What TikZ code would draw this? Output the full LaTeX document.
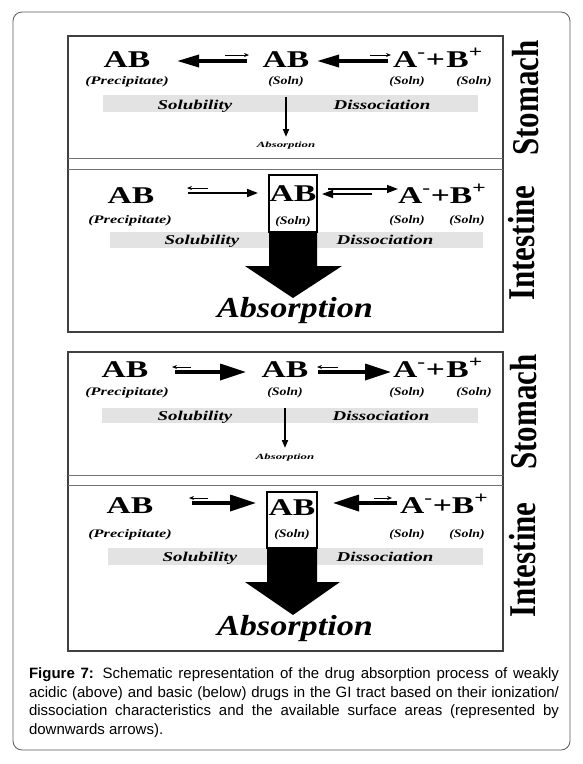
\documentclass[tikz,border=0pt]{standalone}
\usepackage{fontspec}
\setmainfont{Liberation Serif}
\newfontfamily\capfont{Liberation Sans}
\usetikzlibrary{arrows.meta}
\newcommand\sx[2]{\scalebox{#1}[1]{#2}}
\newcommand\sy[2]{\scalebox{1}[#1]{#2}}
\begin{document}
\begin{tikzpicture}[x=1pt,y=-1pt,
  every node/.style={inner sep=0pt, outer sep=0pt},
  big/.style={anchor=base, font=\bfseries\fontsize{24}{24}\selectfont},
  ions/.style={anchor=base west, font=\bfseries\fontsize{24}{24}\selectfont},
  state/.style={anchor=base, font=\bfseries\itshape\fontsize{11.5}{11.5}\selectfont},
  barlab/.style={anchor=base, font=\bfseries\itshape\fontsize{13.5}{13.5}\selectfont},
  absS/.style={anchor=base, font=\bfseries\itshape\fontsize{8}{8}\selectfont},
  absL/.style={anchor=base, font=\bfseries\itshape\fontsize{29}{29}\selectfont},
  organ/.style={rotate=90, anchor=base, font=\bfseries\fontsize{31}{31}\selectfont},
  frame/.style={draw=black!65, line width=0.8pt, rounded corners=9pt},
  panel/.style={draw=black!75, line width=1.5pt},
  sep/.style={draw=black!55, line width=0.9pt},
  bar/.style={fill=black!11},
  boxline/.style={draw=black, fill=white, line width=1.6pt},
  bigA/.style={line width=3.3pt, -{Triangle[length=22pt,width=12pt]}},
  bigB/.style={line width=3.4pt, -{Triangle[length=26pt,width=16pt]}},
  midA/.style={line width=1.8pt, -{Triangle[length=11pt,width=8pt]}},
  thinA/.style={line width=1pt, -{Stealth[length=5pt,width=4pt]}},
  downA/.style={line width=1.8pt, -{Triangle[length=8pt,width=6pt]}},
  fat/.style={fill=black}
]
\useasboundingbox (0,0) rectangle (582,764);
\draw[frame] (13,12) rectangle (570,750);

% panels
\draw[panel] (68,36) rectangle (503,332);
\draw[sep] (68,158) -- (503,158);
\draw[sep] (68,169) -- (503,169);
\draw[panel] (68,352) rectangle (503,651);
\draw[sep] (68,475) -- (503,475);
\draw[sep] (68,485) -- (503,485);

% grey bars
\fill[bar] (103,95) rectangle (478,112);
\fill[bar] (110,232) rectangle (483,248);
\fill[bar] (102,408) rectangle (478,423);
\fill[bar] (108,548) rectangle (483,565);

% ---------- acidic drug: stomach ----------
\node[big] (s1p) at (127,67) {\sx{1.4}{AB}};
\node[state] (s1pl) at (127,84) {\sx{1.42}{(Precipitate)}};
\node[big] (s1s) at (286,67) {\sx{1.4}{AB}};
\node[state] (s1sl) at (286,84) {\sx{1.2}{(Soln)}};
\node[ions] (s1i) at (393,67) {\sx{1.4}{A\textsuperscript{-}+\kern1pt B\textsuperscript{+}}};
\node[state] (s1a) at (407,84) {\sx{1.2}{(Soln)}};
\node[state] (s1b) at (474,84) {\sx{1.2}{(Soln)}};
\node[barlab] (s1sol) at (195,109) {\sx{1.4}{Solubility}};
\node[barlab] (s1dis) at (382,109) {\sx{1.4}{Dissociation}};
\node[absS] (s1abs) at (286,147) {\sx{1.6}{Absorption}};
\node[organ] (s1o) at (538,98) {\sy{1.22}{Stomach}};
\coordinate (a1t) at (177,61); \coordinate (a1e) at (247,61);
\draw[bigA] (a1e) -- (a1t);
\coordinate (a1u) at (225,55); \coordinate (a1v) at (249,55);
\draw[thinA] (a1u) -- (a1v);
\coordinate (b1t) at (317,61); \coordinate (b1e) at (388,61);
\draw[bigA] (b1e) -- (b1t);
\coordinate (b1u) at (370,55); \coordinate (b1v) at (391,55);
\draw[thinA] (b1u) -- (b1v);
\coordinate (d1s) at (286,97); \coordinate (d1e) at (286,137);
\draw[downA] (d1s) -- (d1e);

% ---------- acidic drug: intestine ----------
\node[big] (i1p) at (131,203) {\sx{1.4}{AB}};
\node[state] (i1pl) at (130,223) {\sx{1.42}{(Precipitate)}};
\draw[boxline] (269,175) rectangle (317,232);
\node[big] (i1s) at (293,201) {\sx{1.4}{AB}};
\node[state] (i1sl) at (293,224) {\sx{1.2}{(Soln)}};
\fill[fat] (269,231) -- (269,266) -- (245,266) -- (293,298) -- (342,266) -- (317,266) -- (317,231) -- cycle;
\node[ions] (i1i) at (398,203) {\sx{1.4}{A\textsuperscript{-}+B\textsuperscript{+}}};
\node[state] (i1a) at (407,223) {\sx{1.2}{(Soln)}};
\node[state] (i1b) at (467,223) {\sx{1.2}{(Soln)}};
\node[barlab] (i1sol) at (202,244) {\sx{1.4}{Solubility}};
\node[barlab] (i1dis) at (385,244) {\sx{1.4}{Dissociation}};
\node[absL] (i1abs) at (295,317) {\sx{1.18}{Absorption}};
\node[organ] (i1o) at (534,243) {\sy{1.22}{Intestine}};
\coordinate (c1u) at (208,188); \coordinate (c1v) at (187,188);
\draw[thinA] (c1u) -- (c1v);
\coordinate (c1s) at (188,193); \coordinate (c1e) at (258,193);
\draw[midA] (c1s) -- (c1e);
\coordinate (e1s) at (328,189); \coordinate (e1e) at (398,189);
\draw[midA, line width=1.4pt] (e1s) -- (e1e);
\coordinate (e1u) at (372,194); \coordinate (e1v) at (322,194);
\draw[midA, line width=1.4pt] (e1u) -- (e1v);

% ---------- basic drug: stomach ----------
\node[big] (s2p) at (125,377) {\sx{1.4}{AB}};
\node[state] (s2pl) at (127,395) {\sx{1.42}{(Precipitate)}};
\node[big] (s2s) at (285,377) {\sx{1.4}{AB}};
\node[state] (s2sl) at (285,395) {\sx{1.2}{(Soln)}};
\node[ions] (s2i) at (393,377) {\sx{1.4}{A\textsuperscript{-}+\kern1pt B\textsuperscript{+}}};
\node[state] (s2a) at (407,395) {\sx{1.2}{(Soln)}};
\node[state] (s2b) at (474,395) {\sx{1.2}{(Soln)}};
\node[barlab] (s2sol) at (195,420) {\sx{1.4}{Solubility}};
\node[barlab] (s2dis) at (381,420) {\sx{1.4}{Dissociation}};
\node[absS] (s2abs) at (285,459) {\sx{1.6}{Absorption}};
\node[organ] (s2o) at (536,412) {\sy{1.22}{Stomach}};
\coordinate (a2u) at (191,367); \coordinate (a2v) at (172,367);
\draw[thinA] (a2u) -- (a2v);
\coordinate (a2s) at (175,372); \coordinate (a2e) at (246,372);
\draw[bigB] (a2s) -- (a2e);
\coordinate (b2u) at (338,367); \coordinate (b2v) at (317,367);
\draw[thinA] (b2u) -- (b2v);
\coordinate (b2s) at (318,372); \coordinate (b2e) at (391,372);
\draw[bigB] (b2s) -- (b2e);
\coordinate (d2s) at (285,408); \coordinate (d2e) at (285,448);
\draw[downA] (d2s) -- (d2e);

% ---------- basic drug: intestine ----------
\node[big] (i2p) at (130,513) {\sx{1.4}{AB}};
\node[state] (i2pl) at (130,537) {\sx{1.42}{(Precipitate)}};
\draw[boxline] (267,492) rectangle (317,548);
\node[big] (i2s) at (292,515) {\sx{1.4}{AB}};
\node[state] (i2sl) at (292,537) {\sx{1.2}{(Soln)}};
\fill[fat] (267,547) -- (267,582) -- (245,582) -- (293,615) -- (340,582) -- (317,582) -- (317,547) -- cycle;
\node[ions] (i2i) at (400,513) {\sx{1.4}{A\textsuperscript{-}+B\textsuperscript{+}}};
\node[state] (i2a) at (407,537) {\sx{1.2}{(Soln)}};
\node[state] (i2b) at (467,537) {\sx{1.2}{(Soln)}};
\node[barlab] (i2sol) at (200,561) {\sx{1.4}{Solubility}};
\node[barlab] (i2dis) at (385,561) {\sx{1.4}{Dissociation}};
\node[absL] (i2abs) at (295,635) {\sx{1.18}{Absorption}};
\node[organ] (i2o) at (535,560) {\sy{1.22}{Intestine}};
\coordinate (c2u) at (208,498); \coordinate (c2v) at (189,498);
\draw[thinA] (c2u) -- (c2v);
\coordinate (c2s) at (192,503); \coordinate (c2e) at (256,503);
\draw[bigB] (c2s) -- (c2e);
\coordinate (e2s) at (397,503); \coordinate (e2e) at (333,503);
\draw[bigB] (e2s) -- (e2e);
\coordinate (e2u) at (374,498); \coordinate (e2v) at (392,498);
\draw[thinA] (e2u) -- (e2v);

% ---------- caption ----------
\node[anchor=north west, text width=530pt, align=justify,
  font=\capfont\fontsize{15}{18.5}\selectfont] (cap) at (29,668)
  {\textbf{Figure 7:} Schematic representation of the drug absorption process of weakly\linebreak acidic (above) and basic (below) drugs in the GI tract based on their ionization/\linebreak dissociation characteristics and the available surface areas (represented by\linebreak downwards arrows).};
\end{tikzpicture}
\end{document}
